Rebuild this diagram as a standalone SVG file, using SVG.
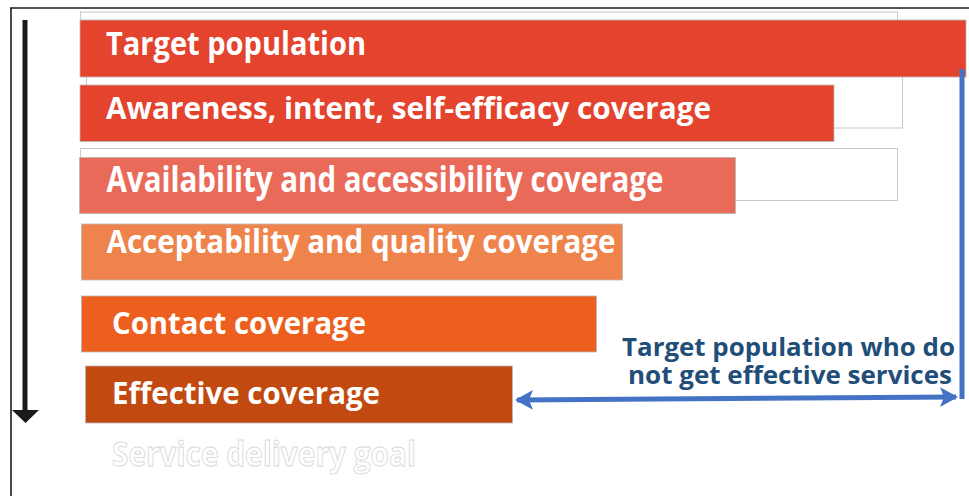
<svg xmlns="http://www.w3.org/2000/svg" width="969" height="496" viewBox="0 0 969 496">
<style>
.lbl{font-family:"Open Sans","Noto Sans","DejaVu Sans",sans-serif;font-weight:bold;fill:#ffffff}
.blue{font-family:"Open Sans","Noto Sans","DejaVu Sans",sans-serif;font-weight:bold;fill:#1F4E79;font-size:24.5px}
.ghost{fill:none;stroke:#c8c8c8;stroke-width:1}
.bar{stroke:#b8b8b8;stroke-width:0.8}
</style>
<defs>
<marker id="bh" markerUnits="userSpaceOnUse" markerWidth="20" markerHeight="22" refX="16" refY="11" orient="auto-start-reverse">
<path d="M0,1 L18,11 L0,21 L4,11 z" fill="#4472C4"/>
</marker>
</defs>
<rect x="0" y="0" width="969" height="496" fill="#ffffff"/>
<g id="frame">
<line x1="10.5" y1="8" x2="969" y2="8" stroke="#1a1a1a" stroke-width="1.6"/>
<line x1="11" y1="7.5" x2="11" y2="496" stroke="#1a1a1a" stroke-width="1.6"/>
</g>
<g id="ghost-boxes">
<rect class="ghost" x="80.5" y="12" width="817" height="50"/>
<rect class="ghost" x="86.5" y="30" width="816" height="98"/>
<rect class="ghost" x="80.5" y="148.5" width="817" height="52"/>
</g>
<g id="n-target">
<rect class="bar" x="80" y="20" width="886" height="57" fill="#E4432E"/>
<text class="lbl" x="106" y="55" font-size="31.5" textLength="260" lengthAdjust="spacingAndGlyphs">Target population</text>
</g>
<g id="n-awareness">
<rect class="bar" x="80" y="85" width="754" height="56.5" fill="#E4432E"/>
<text class="lbl" x="106" y="119" font-size="31" textLength="605" lengthAdjust="spacingAndGlyphs">Awareness, intent, self-efficacy coverage</text>
</g>
<g id="n-availability">
<rect class="bar" x="79.5" y="157.5" width="656" height="56" fill="#EA6A5A"/>
<text class="lbl" x="106.5" y="191.7" font-size="35" textLength="557" lengthAdjust="spacingAndGlyphs">Availability and accessibility coverage</text>
</g>
<g id="n-acceptability">
<rect class="bar" x="81.5" y="224" width="541" height="56" fill="#EE834C"/>
<text class="lbl" x="106.5" y="253.3" font-size="32.6" textLength="509" lengthAdjust="spacingAndGlyphs">Acceptability and quality coverage</text>
</g>
<g id="n-contact">
<rect class="bar" x="81.5" y="296" width="515" height="56" fill="#EC5F1F"/>
<text class="lbl" x="112" y="334.3" font-size="30.5" textLength="254" lengthAdjust="spacingAndGlyphs">Contact coverage</text>
</g>
<g id="n-effective">
<rect class="bar" x="85.5" y="366" width="427" height="57" fill="#C24A11"/>
<text class="lbl" x="112" y="404.3" font-size="30.5" textLength="268" lengthAdjust="spacingAndGlyphs">Effective coverage</text>
</g>
<g id="n-goal">
<text class="lbl" x="112" y="466" font-size="33.6" textLength="304" lengthAdjust="spacingAndGlyphs" stroke="#d8d8d8" stroke-width="0.9">Service delivery goal</text>
</g>
<g id="n-gap-label">
<text class="blue" x="622" y="356" textLength="333" lengthAdjust="spacingAndGlyphs">Target population who do</text>
<text class="blue" x="628" y="384" textLength="324" lengthAdjust="spacingAndGlyphs">not get effective services</text>
</g>
<g id="connectors">
<line x1="25" y1="20" x2="25" y2="411" stroke="#1a1a1a" stroke-width="5"/>
<polygon points="12,410 39,410 25.5,423" fill="#1a1a1a"/>
<polyline points="962,69 962,399" fill="none" stroke="#4472C4" stroke-width="5"/>
<line x1="517" y1="400" x2="956" y2="397" stroke="#4472C4" stroke-width="5" marker-start="url(#bh)" marker-end="url(#bh)"/>
</g>
</svg>
